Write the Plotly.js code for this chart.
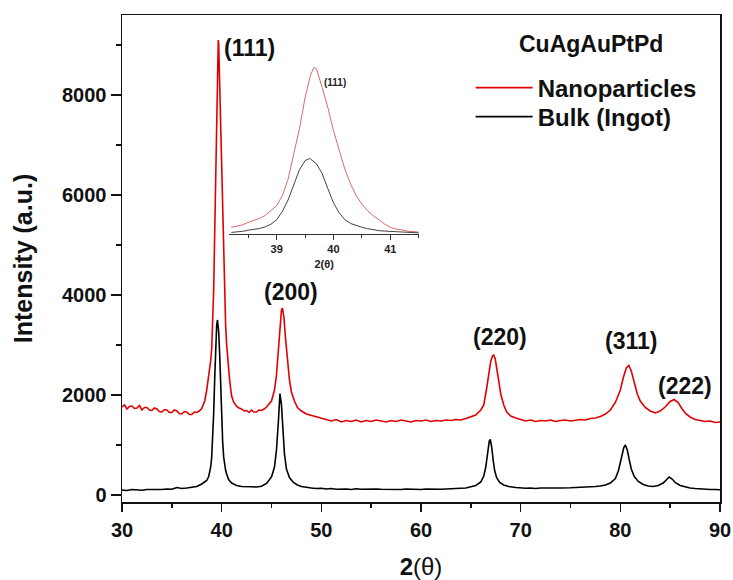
<!DOCTYPE html>
<html>
<head>
<meta charset="utf-8">
<script src="https://cdn.plot.ly/plotly-3.0.1.min.js"></script>
<style>html,body{margin:0;padding:0;background:#fff;}#chart{width:733px;height:580px;}</style>
</head>
<body>
<div id="chart"></div>
<script>
// ---- Main pattern: Nanoparticles (red) ----
const nanoX = [30,30.25,30.5,30.75,31,31.25,31.5,31.75,32,32.25,32.5,32.75,33,33.25,33.5,33.75,34,34.25,34.5,34.75,35,35.25,35.5,35.75,36,36.25,36.5,36.75,37,37.25,37.5,37.75,38,38.3,
  38.5,38.7,38.9,39.0,39.1,39.2,39.3,39.4,39.5,39.6,39.66,39.7,39.8,39.9,40.0,40.1,40.2,40.3,40.4,40.5,40.6,40.7,40.8,40.9,41.0,41.2,41.5,
  41.75,42,42.25,42.5,42.75,43,43.25,43.5,43.75,44,44.25,44.5,45.0,45.3,45.5,45.7,45.85,46.0,46.1,46.25,46.4,46.6,46.8,47.0,47.3,47.6,48,48.5,49,
  49.5,50,50.5,51,51.5,52,52.5,53,53.5,54,54.5,55,55.5,56,56.5,57,57.5,58,58.5,59,59.5,60,60.5,61,61.5,62,62.5,63,63.5,64,64.5,65,65.5,
  66,66.3,66.6,66.8,67.0,67.2,67.3,67.45,67.6,67.8,68.0,68.3,68.6,69,69.5,70,70.5,71,71.5,72,72.5,73,73.5,74,74.5,75,75.5,76,76.5,77,77.5,78,78.5,
  79,79.5,80,80.3,80.6,80.85,81.1,81.4,81.7,82,82.5,83,83.5,84,84.5,85,85.4,85.8,86.2,86.6,87,87.5,88,88.5,89,89.5,90];
const nanoY = [1760,1800,1720,1770,1780,1730,1740,1790,1700,1750,1750,1700,1690,1740,1720,1670,1660,1710,1700,1650,1650,1700,1680,1630,1620,1670,1660,1610,1610,1660,1650,1680,1730,1880,
  2100,2350,2690,2920,3370,4100,5230,6350,7750,8800,9100,9030,8200,7310,6270,5370,4560,3900,3380,3010,2710,2490,2300,2130,1980,1860,1770,
  1740,1720,1680,1690,1650,1700,1660,1660,1700,1690,1720,1760,1880,2100,2400,2900,3350,3700,3740,3550,3150,2650,2300,2060,1880,1750,1680,1620,1590,
  1560,1530,1500,1480,1510,1460,1490,1470,1500,1460,1490,1470,1500,1480,1460,1490,1470,1500,1480,1460,1490,1480,1500,1470,1490,1480,1500,1490,1510,1500,1530,1560,1600,
  1700,1800,2150,2450,2680,2790,2800,2720,2560,2280,2020,1800,1660,1580,1540,1510,1480,1500,1470,1490,1480,1500,1470,1490,1500,1480,1500,1510,1500,1530,1540,1570,1620,
  1700,1850,2100,2350,2540,2590,2480,2250,2020,1880,1750,1680,1640,1680,1760,1870,1910,1850,1720,1620,1560,1510,1490,1470,1480,1450,1460];

// ---- Main pattern: Bulk ingot (black) ----
const bulkX = [30,30.5,31,31.5,32,32.5,33,33.5,34,34.5,35,35.5,36,36.5,37,37.5,38,38.3,
  38.5,38.7,38.9,39.0,39.1,39.2,39.3,39.4,39.5,39.58,39.7,39.8,39.9,40.0,40.1,40.2,40.3,40.4,40.5,40.7,41.0,41.5,
  42,42.5,43,43.5,44,44.5,45,45.3,45.5,45.7,45.85,46.0,46.15,46.3,46.5,46.8,47.2,47.6,48,48.5,49,
  49.5,50,50.5,51,51.5,52,52.5,53,53.5,54,54.5,55,55.5,56,56.5,57,57.5,58,58.5,59,59.5,60,60.5,61,61.5,62,62.5,63,63.5,64,64.5,65,65.5,
  66,66.3,66.5,66.7,66.85,66.95,67.1,67.25,67.4,67.6,67.9,68.3,68.8,69.5,70,70.5,71,71.5,72,72.5,73,73.5,74,74.5,75,75.5,76,76.5,77,77.5,78,78.5,
  79,79.5,79.8,80.1,80.35,80.5,80.7,80.9,81.1,81.4,81.8,82.3,82.8,83.3,83.8,84.3,84.6,84.9,85.2,85.5,86,86.5,87,87.5,88,88.5,89,89.5,90];
const bulkY = [100,90,110,100,95,110,105,115,110,120,115,150,130,140,150,170,220,260,
  290,370,560,760,1130,1640,2320,2990,3400,3500,3260,2820,2150,1510,1070,760,590,490,420,310,240,190,
  170,160,165,160,175,230,360,560,900,1500,2030,1800,1250,820,520,350,250,200,170,150,140,
  130,135,120,130,115,125,120,110,125,115,120,110,120,115,110,120,115,110,120,115,120,110,120,115,125,115,120,130,125,135,140,160,190,
  260,380,560,850,1080,1110,950,680,480,340,250,200,170,150,140,135,140,130,140,135,145,140,140,150,145,150,155,150,160,170,180,200,
  240,330,480,720,950,1000,900,700,520,370,270,210,180,170,190,240,310,360,320,250,190,160,140,130,120,115,110,110,105];

// ---- Inset: (111) reflection, background removed ----
const insetNanoX = [38.2,38.3,38.4,38.5,38.6,38.7,38.8,38.9,39.0,39.1,39.2,39.3,39.4,39.5,39.6,39.66,39.7,39.8,39.9,40.0,40.1,40.2,40.3,40.4,40.5,40.6,40.7,40.8,40.9,41.0,41.1,41.2,41.3,41.4,41.5];
const insetNanoY = [300,360,410,520,600,700,830,1040,1270,1720,2450,3580,4700,6100,7150,7450,7380,6550,5660,4620,3720,2900,2240,1710,1340,1040,820,630,450,300,220,190,130,110,80];
const insetBulkX = [38.2,38.3,38.4,38.5,38.6,38.7,38.8,38.9,39.0,39.1,39.2,39.3,39.4,39.5,39.58,39.7,39.8,39.9,40.0,40.1,40.2,40.3,40.4,40.5,40.6,40.7,40.8,40.9,41.0,41.1,41.2,41.3,41.4,41.5];
const insetBulkY = [70,85,120,170,200,250,320,440,640,1010,1520,2200,2870,3280,3380,3140,2700,2030,1390,950,640,470,370,300,240,190,150,130,120,100,85,70,65,50];

// ---- Labels ----
const seriesNames = ["Nanoparticles", "Bulk (Ingot)"];
const sampleName = "CuAgAuPtPd";
const peakLabels = ["(111)", "(200)", "(220)", "(311)", "(222)"];
const peakLabelX = [42.84, 47.0, 67.9, 81.05, 86.5];
const peakLabelY = [8935, 4060, 3160, 3080, 2180];
const xTitle = "<b>2</b>(θ)";
const yTitle = "Intensity (a.u.)";

const FONT = "'Liberation Sans', Arial, sans-serif";

const traces = [
  {x: nanoX, y: nanoY, name: seriesNames[0], type: "scatter", mode: "lines",
   line: {color: "#e00000", width: 1.6}, xaxis: "x", yaxis: "y", legend: "legend"},
  {x: bulkX, y: bulkY, name: seriesNames[1], type: "scatter", mode: "lines",
   line: {color: "#000000", width: 1.6}, xaxis: "x", yaxis: "y", legend: "legend2"},
  {x: insetNanoX, y: insetNanoY, name: seriesNames[0], type: "scatter", mode: "lines",
   line: {color: "#d96a6a", width: 1}, xaxis: "x2", yaxis: "y2", showlegend: false},
  {x: insetBulkX, y: insetBulkY, name: seriesNames[1], type: "scatter", mode: "lines",
   line: {color: "#444444", width: 1}, xaxis: "x2", yaxis: "y2", showlegend: false}
];

const annotations = peakLabels.map((t, i) => ({
  text: "<b>" + t + "</b>", x: peakLabelX[i], y: peakLabelY[i], xref: "x", yref: "y",
  showarrow: false, xanchor: "center", yanchor: "middle",
  font: {family: FONT, size: 23, color: "#111"}
}));
annotations.push({
  text: "<b>" + sampleName + "</b>", x: 0.784, y: 0.940, xref: "paper", yref: "paper",
  showarrow: false, xanchor: "center", yanchor: "middle",
  font: {family: FONT, size: 23, color: "#111"}
});
annotations.push({
  text: "<b>(111)</b>", x: 40.03, y: 6790, xref: "x2", yref: "y2",
  showarrow: false, xanchor: "center", yanchor: "middle",
  font: {family: FONT, size: 10, color: "#222"}
});

const legendBase = {xanchor: "left", yanchor: "middle",
  font: {family: FONT, size: 24, color: "#111", weight: "bold"},
  bgcolor: "rgba(0,0,0,0)", itemwidth: 57};

const layout = {
  width: 733, height: 580,
  margin: {l: 122, r: 13, t: 15, b: 78},
  paper_bgcolor: "#fff", plot_bgcolor: "#fff",
  font: {family: FONT, color: "#111"},
  showlegend: true,
  legend: Object.assign({}, legendBase, {x: 0.583, y: (502 - 88) / 487}),
  legend2: Object.assign({}, legendBase, {x: 0.583, y: (502 - 117) / 487}),
  xaxis: {range: [30, 90], tickvals: [30,40,50,60,70,80,90], showgrid: false, zeroline: false,
    showline: true, linecolor: "#111", linewidth: 1.5, mirror: true,
    ticks: "outside", ticklen: 8, tickwidth: 1.5, tickcolor: "#111", ticklabelstandoff: 1,
    minor: {dtick: 5, ticks: "outside", ticklen: 4, tickwidth: 1.5, tickcolor: "#111", showgrid: false},
    tickfont: {family: FONT, size: 20, weight: "bold", color: "#111"},
    title: {text: xTitle, font: {family: FONT, size: 24, color: "#111"}, standoff: 20}},
  yaxis: {range: [-140, 9600], tickvals: [0,2000,4000,6000,8000], showgrid: false, zeroline: false,
    showline: true, linecolor: "#111", linewidth: 1.5, mirror: true,
    ticks: "outside", ticklen: 10, tickwidth: 1.5, tickcolor: "#111",
    minor: {dtick: 1000, ticks: "outside", ticklen: 5, tickwidth: 1.5, tickcolor: "#111", showgrid: false},
    tickfont: {family: FONT, size: 20, weight: "bold", color: "#111"},
    title: {text: "<b>" + yTitle + "</b>", font: {family: FONT, size: 25, color: "#111"}, standoff: 22}},
  xaxis2: {domain: [0.179, 0.497], anchor: "y2", range: [38.16, 41.51],
    tickvals: [39, 40, 41], showgrid: false, zeroline: false,
    showline: true, linecolor: "#333", linewidth: 1,
    ticks: "outside", ticklen: 5, tickwidth: 1, tickcolor: "#333",
    minor: {dtick: 0.5, ticks: "outside", ticklen: 3, tickwidth: 1, tickcolor: "#333", showgrid: false},
    tickfont: {family: FONT, size: 11, weight: "bold", color: "#222"},
    title: {text: "<b>2(θ)</b>", font: {family: FONT, size: 11, color: "#222"}, standoff: 6}},
  yaxis2: {domain: [0.5503, 0.9179], anchor: "x2", range: [0, 8000],
    visible: false, showgrid: false, zeroline: false},
  annotations: annotations
};

Plotly.newPlot("chart", traces, layout, {staticPlot: true, displayModeBar: false});
</script>
</body>
</html>
